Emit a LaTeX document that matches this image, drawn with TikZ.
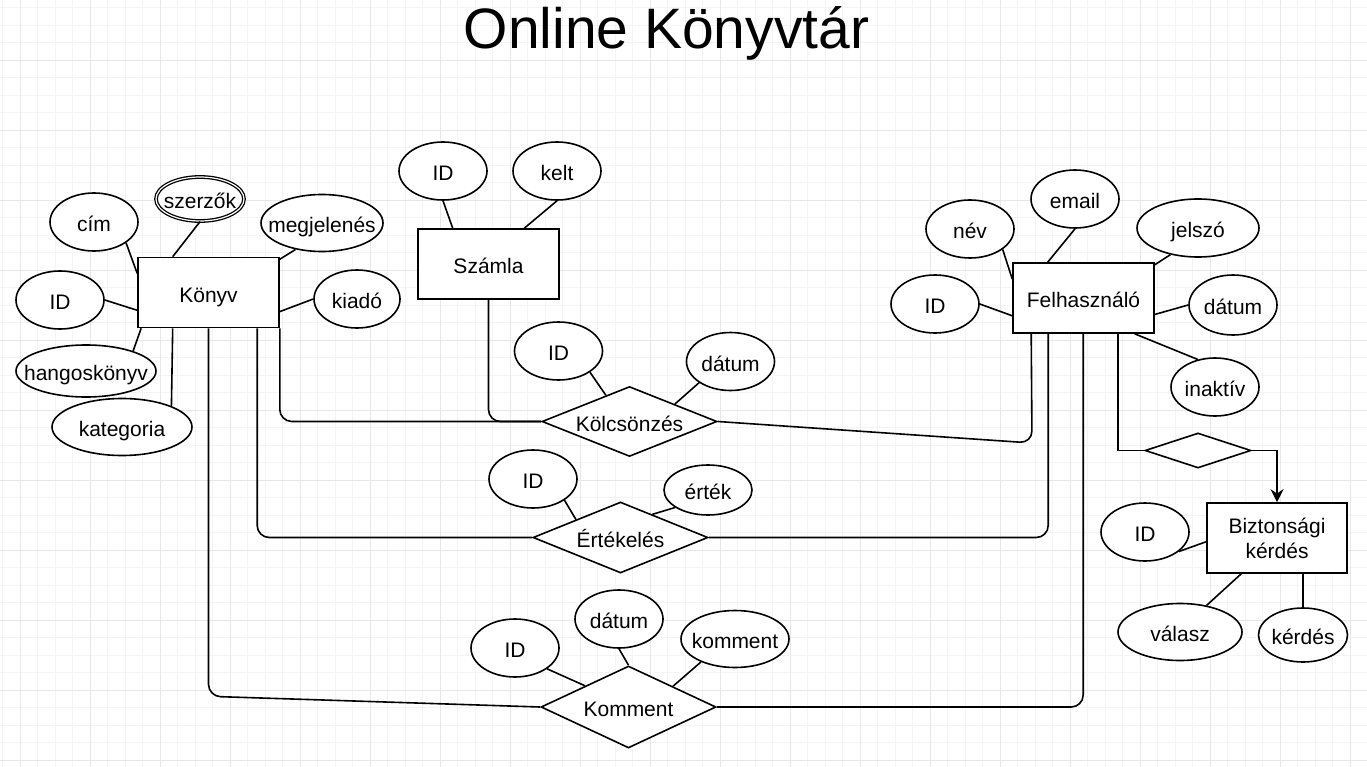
\documentclass[tikz,border=0pt]{standalone}
\usepackage{fontspec}
\setmainfont{Liberation Sans}
\usetikzlibrary{shapes.geometric,arrows.meta}
\definecolor{gridminor}{HTML}{F4F4F4}
\definecolor{gridmajor}{HTML}{E7E7E7}
\begin{document}
\begin{tikzpicture}[x=1pt,y=-1pt,
  lw/.style={line width=1.6pt},
  tb/.style={text height=23pt, text depth=4pt},
  zerobox/.style={execute at begin node={\hbox to 0pt\bgroup\hss}, execute at end node={\hss\egroup}},
  entity/.style={rectangle, draw, line width=1.6pt, fill=white, minimum width=141pt, minimum height=70pt, inner sep=0pt, font=\fontsize{21}{25}\selectfont, align=center, tb},
  attr/.style={ellipse, draw, line width=1.6pt, fill=white, minimum width=88pt, minimum height=58pt, inner sep=0pt, font=\fontsize{21}{25}\selectfont, zerobox, tb},
  rel/.style={diamond, draw, line width=1.6pt, fill=white, minimum width=175pt, minimum height=70pt, inner sep=0pt, font=\fontsize{21}{25}\selectfont, zerobox, tb},
  rc/.style={lw, rounded corners=12pt}
]
\useasboundingbox (0,0) rectangle (1367,767);
\fill[white] (0,0) rectangle (1367,767);
% grid
\foreach \i in {0,...,78} \draw[gridminor, line width=0.9pt] ({2.5+17.5*\i},0) -- ({2.5+17.5*\i},767);
\foreach \i in {0,...,43} \draw[gridminor, line width=0.9pt] (0,{7.5+17.5*\i}) -- (1367,{7.5+17.5*\i});
\foreach \i in {0,...,19} \draw[gridmajor, line width=0.9pt] ({20+70*\i},0) -- ({20+70*\i},767);
\foreach \i in {0,...,11} \draw[gridmajor, line width=0.9pt] (0,{-10+70*\i}) -- (1367,{-10+70*\i});

% title
\node[anchor=base, font=\fontsize{57}{64}\selectfont, inner sep=0pt] (title) at (666.5,49) {Online Könyvtár};

% entities
\node[entity] (konyv) at (208.5,292.5) {Könyv};
\node[entity] (szamla) at (488.5,264) {Számla};
\node[entity] (felh) at (1083.5,298) {Felhasználó};
\node[entity, minimum width=140pt, text height=, text depth=] (bizt) at (1277,538) {Biztonsági\\kérdés};

% relationships
\node[rel] (kolcs) at (629.5,421.5) {Kölcsönzés};
\node[rel, minimum height=71pt] (ertek) at (620.5,537.5) {Értékelés};
\node[rel, minimum height=82pt] (komment) at (628.5,707) {Komment};
\node[rel, minimum width=106pt, minimum height=35pt] (frel) at (1198,450.5) {};

% attributes of Könyv
\node[attr] (kcim) at (94,222) {cím};
\node[attr, minimum height=44pt, double, double distance=1.2pt, line width=1.3pt] (kszerzo) at (200,199) {szerzők};
\node[attr, minimum width=122pt, minimum height=57pt] (kmegj) at (322,223) {megjelenés};
\node[attr] (kid) at (60,300) {ID};
\node[attr, minimum width=86pt] (kkiado) at (357,299) {kiadó};
\node[attr, minimum width=140pt, minimum height=52pt] (khang) at (86,371) {hangoskönyv};
\node[attr, minimum width=140pt, minimum height=57pt] (kkat) at (122,427) {kategoria};

% attributes of Számla
\node[attr] (szid) at (443,171) {ID};
\node[attr] (szkelt) at (557,171) {kelt};

% attributes of Kölcsönzés
\node[attr] (kid2) at (558.5,351) {ID};
\node[attr] (kdat) at (730.5,361.5) {dátum};

% attributes of Felhasználó
\node[attr] (fnev) at (970,229) {név};
\node[attr] (femail) at (1075,199) {email};
\node[attr, minimum width=122pt] (fjelszo) at (1198,228) {jelszó};
\node[attr] (fid) at (935,304) {ID};
\node[attr, minimum height=60pt] (fdat) at (1233,305) {dátum};
\node[attr] (finakt) at (1215,387) {inaktív};

% attributes of Biztonsági kérdés
\node[attr] (bid) at (1145,532) {ID};
\node[attr, minimum width=124pt, minimum height=57pt] (bval) at (1180,632) {válasz};
\node[attr, minimum width=89pt, minimum height=54pt] (bkerd) at (1303,635) {kérdés};

% attributes of Értékelés
\node[attr] (eid) at (533,479) {ID};
\node[attr, minimum height=50pt] (eert) at (708,490) {érték};

% attributes of Komment
\node[attr] (mid) at (515,648) {ID};
\node[attr] (mdat) at (619,619) {dátum};
\node[attr, minimum width=108pt, minimum height=57pt] (mkomm) at (735,639) {komment};

% attribute connectors
\draw[lw] (kcim.327) -- (konyv.165);
\draw[lw] (kszerzo.south) -- (konyv.135);
\draw[lw] (kmegj.225) -- (konyv.25);
\draw[lw] (kid.east) -- (konyv.194);
\draw[lw] (kkiado.west) -- (konyv.345);
\draw[lw] (khang.23) -- (konyv.208);
\draw[lw] (kkat.23) -- (konyv.225);

\draw[lw] (szid.south) -- (szamla.135);
\draw[lw] (szkelt.south) -- (szamla.45);

\draw[lw] (kid2.326) -- (kolcs.132.5);
\draw[lw] (kdat.214) -- (kolcs.21);

\draw[lw] (fnev.328) -- (felh.165);
\draw[lw] (femail.south) -- (felh.135);
\draw[lw] (fjelszo.224) -- (felh.25);
\draw[lw] (fid.east) -- (felh.194);
\draw[lw] (fdat.west) -- (felh.347);
\draw[lw] (finakt.122) -- (felh.325);

\draw[lw] (bid.330) -- (bizt.183);
\draw[lw] (bval.45) -- (bizt.225);
\draw[lw] (bkerd.north) -- (bizt.306);

\draw[lw] (eid.326) -- (ertek.158);
\draw[lw] (eert.208) -- (ertek.36);

\draw[lw] (mid.327) -- (komment.154);
\draw[lw] (mdat.south) -- (komment.north);
\draw[lw] (mkomm.214) -- (komment.25);

% relationship connectors
\draw[rc] (konyv.south east) |- (kolcs.west);
\draw[rc] (szamla.south) |- (kolcs.west);
\draw[rc] (kolcs.east) -- (1032,443) -- ([xshift=19pt]felh.south west);
\draw[rc] ([xshift=120pt]konyv.south west) |- (ertek.west);
\draw[rc] (ertek.east) -| ([xshift=36pt]felh.south west);
\draw[rc] (konyv.south) -- ++(0,368) -- (komment.west);
\draw[rc] (komment.east) -| ([xshift=71pt]felh.south west);
\draw[lw] ([xshift=106pt]felh.south west) |- (frel.west);
\draw[lw, -{Stealth[length=13pt,width=13pt]}] (frel.east) -| (bizt.north);
\end{tikzpicture}
\end{document}
